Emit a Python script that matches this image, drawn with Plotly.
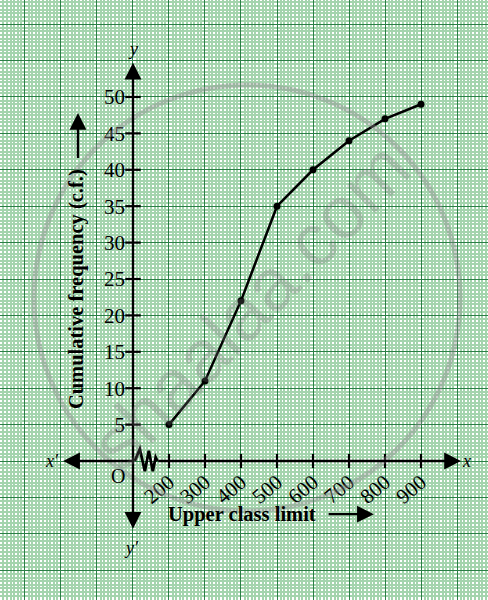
import plotly.graph_objects as go

# ---- data ----
upper_limits = [200, 300, 400, 500, 600, 700, 800, 900]
cum_freq = [5, 11, 22, 35, 40, 44, 47, 49]
x_tick_vals = [200, 300, 400, 500, 600, 700, 800, 900]
x_tick_text = ["200", "300", "400", "500", "600", "700", "800", "900"]
y_tick_vals = [5, 10, 15, 20, 25, 30, 35, 40, 45, 50]
y_tick_text = ["5", "10", "15", "20", "25", "30", "35", "40", "45", "50"]

ORIGIN_X = 100  # broken axis: origin drawn where 100 would sit
X_RANGE = [-269.4, 1086.1]
Y_RANGE = [-19.09, 63.32]

W, H = 488, 600
SERIF = "Liberation Serif, Times New Roman, serif"
MAJOR = "#2b7f46"
MINOR = "#a4d4ad"

fig = go.Figure()

# data curve (ogive)
fig.add_trace(go.Scatter(
    x=upper_limits, y=cum_freq, mode="lines+markers",
    line=dict(color="black", width=2.5),
    marker=dict(color="black", size=7),
    hoverinfo="skip", showlegend=False))

# tick marks crossing the axes
fig.add_trace(go.Scatter(
    x=x_tick_vals, y=[0] * len(x_tick_vals), xaxis="x2", mode="markers",
    marker=dict(symbol="line-ns", size=10, line=dict(color="black", width=2.2)),
    hoverinfo="skip", showlegend=False))
fig.add_trace(go.Scatter(
    x=[ORIGIN_X] * len(y_tick_vals), y=y_tick_vals, yaxis="y2", mode="markers",
    marker=dict(symbol="line-ew", size=11, line=dict(color="black", width=2.2)),
    hoverinfo="skip", showlegend=False))

# axes lines with arrows
arrow_common = dict(xref="x", yref="y", axref="x", ayref="y", text="",
                    showarrow=True, arrowcolor="black", arrowwidth=2.4,
                    arrowhead=2, arrowsize=1.4)
# y axis (both ends)
fig.add_annotation(x=ORIGIN_X, y=54.7, ax=ORIGIN_X, ay=-9.5,
                   arrowside="end+start", **arrow_common)
# x axis left part
fig.add_annotation(x=-94, y=0, ax=106, ay=0, **arrow_common)
# x axis right part
fig.add_annotation(x=1011, y=0, ax=166, ay=0, **arrow_common)

# zigzag break
pts = [(105, 0), (119, 1.65), (133, -1.4), (144, 1.4), (155, -1.4),
       (163, 0.5), (168, 0)]
path = "M " + " L ".join(f"{a},{b}" for a, b in pts)
fig.add_shape(type="path", path=path, xref="x", yref="y",
              line=dict(color="black", width=2.8))

# small arrows next to titles
fig.add_annotation(x=-52.8, y=47.8, ax=-52.8, ay=41.4, **arrow_common)
fig.add_annotation(x=769, y=-7.3, ax=639, ay=-7.3, **arrow_common)

# titles and labels
fig.add_annotation(x=-58.5, y=23.6, xref="x", yref="y", showarrow=False,
                   text="<b>Cumulative frequency (c.f.)</b>", textangle=-90,
                   font=dict(family=SERIF, size=20.5, color="black"))
fig.add_annotation(x=402, y=-7.3, xref="x", yref="y", showarrow=False,
                   text="<b>Upper class limit</b>",
                   font=dict(family=SERIF, size=20.5, color="black"))
fig.add_annotation(x=58, y=-2.1, xref="x", yref="y", showarrow=False,
                   text="O", font=dict(family=SERIF, size=20, color="black"))
fig.add_annotation(x=-124, y=0, xref="x", yref="y", showarrow=False,
                   text="<i>x′</i>", font=dict(family=SERIF, size=18, color="black"))
fig.add_annotation(x=1025, y=0, xref="x", yref="y", showarrow=False,
                   text="<i>x</i>", font=dict(family=SERIF, size=18, color="black"))
fig.add_annotation(x=ORIGIN_X, y=56.6, xref="x", yref="y", showarrow=False,
                   text="<i>y</i>", font=dict(family=SERIF, size=18, color="black"))
fig.add_annotation(x=ORIGIN_X - 5, y=-11.9, xref="x", yref="y", showarrow=False,
                   text="<i>y′</i>", font=dict(family=SERIF, size=18, color="black"))

# watermark
fig.add_shape(type="circle", xref="paper", yref="paper",
              x0=34 / W, x1=460 / W, y0=1 - 511 / H, y1=1 - 85 / H,
              line=dict(color="rgba(140,140,140,0.4)", width=5), layer="above")
fig.add_annotation(x=250 / W, y=1 - 305 / H, xref="paper", yref="paper",
                   showarrow=False, text="shaalaa.com", textangle=-46,
                   font=dict(family="Liberation Sans, Arial, sans-serif", size=74,
                             color="rgba(120,120,120,0.27)"))

axis_grid = dict(showgrid=True, gridcolor=MAJOR, gridwidth=1.3,
                 zeroline=False, showline=False, showticklabels=False,
                 ticks="", fixedrange=True)
fig.update_layout(
    width=W, height=H,
    margin=dict(l=0, r=0, t=0, b=0, pad=0, autoexpand=False),
    paper_bgcolor="white", plot_bgcolor="white",
    showlegend=False,
    xaxis=dict(range=X_RANGE, tick0=0, dtick=100,
               minor=dict(tick0=0, dtick=10, showgrid=True, gridcolor=MINOR,
                          gridwidth=1.6),
               **axis_grid),
    yaxis=dict(range=Y_RANGE, tick0=0, dtick=5,
               minor=dict(tick0=0, dtick=0.5, showgrid=True, gridcolor=MINOR,
                          gridwidth=1.6),
               **axis_grid),
    xaxis2=dict(range=X_RANGE, overlaying="x", anchor="free",
                position=(H - 461) / H, side="bottom",
                showgrid=False, zeroline=False, showline=False,
                tickmode="array", tickvals=x_tick_vals, ticktext=x_tick_text,
                tickangle=-40, ticks="", ticklabelstandoff=4,
                tickfont=dict(family=SERIF, size=21, color="black"),
                fixedrange=True, automargin=False),
    yaxis2=dict(range=Y_RANGE, overlaying="y", anchor="free",
                position=133 / W, side="left",
                showgrid=False, zeroline=False, showline=False,
                tickmode="array", tickvals=y_tick_vals, ticktext=y_tick_text,
                ticks="", ticklabelstandoff=8,
                tickfont=dict(family=SERIF, size=21, color="black"),
                fixedrange=True, automargin=False),
)

fig.write_html(
    "out.html",
    config={"displayModeBar": False, "responsive": False},
    post_script="document.body.style.margin='0';document.body.style.overflow='hidden';",
)
